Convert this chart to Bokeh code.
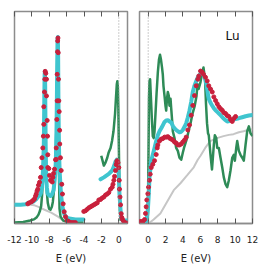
from bokeh.plotting import figure
from bokeh.layouts import row
from bokeh.models import Range1d, FixedTicker, LinearAxis, Span, Label
from bokeh.embed import file_html
from bokeh.resources import INLINE

# ---------------- data (energies in eV, intensities in arbitrary units) ----------------
left_ticks = [-12, -10, -8, -6, -4, -2, 0]
right_ticks = [0, 2, 4, 6, 8, 10, 12]

# Left panel: occupied states (4f doublet and valence band)
lc_core_E = [-12.0, -11.3, -10.73, -10.39, -9.93, -9.81, -9.47, -9.24, -9.07, -8.97, -8.85, -8.78, -8.72, -8.68,
             -8.63, -8.60, -8.57, -8.53, -8.50, -8.47, -8.44, -8.41, -8.38, -8.35, -8.28, -8.20, -8.05, -7.86,
             -7.74, -7.63, -7.51, -7.43, -7.36, -7.29, -7.25, -7.20, -7.16, -7.12, -7.08, -7.05, -7.01, -6.98,
             -6.95, -6.91, -6.86, -6.80, -6.74, -6.68, -6.62, -6.50, -6.36, -6.20, -6.00, -5.70, -5.00, -4.06]
lc_core_I = [19, 19, 19.5, 21, 22, 22.5, 25, 28, 29, 31, 37, 44, 55, 65,
             80, 100, 130, 152, 155, 140, 105, 78, 60, 46, 37, 31, 29, 28,
             29, 31, 34, 40, 46, 55, 63, 80, 100, 130, 165, 188, 190, 170,
             130, 95, 68, 52, 43, 34, 27, 18, 12, 8, 6, 5, 4, 4]
lc_vb_E = [-2.10, -1.72, -1.15, -0.76, -0.57, -0.38, -0.24, -0.14, -0.06, 0.0, 0.08, 0.20, 0.28, 0.43, 1.0]
lc_vb_I = [45, 47, 50.5, 54, 58, 63, 65, 64, 59, 47, 30, 14, 6, 3, 3]

lg_core_E = [-12.0, -11.0, -10.2, -9.7, -9.47, -9.24, -9.07, -8.93, -8.82, -8.74, -8.68, -8.62, -8.57, -8.53,
             -8.50, -8.47, -8.44, -8.40, -8.35, -8.28, -8.17, -8.02, -7.86, -7.70, -7.59, -7.47, -7.38, -7.30,
             -7.24, -7.18, -7.13, -7.09, -7.05, -7.01, -6.97, -6.93, -6.88, -6.82, -6.70, -6.40, -6.0, -5.0,
             -4.06]
lg_core_I = [1, 1.5, 3, 4.5, 6, 9, 13, 18, 30, 45, 62, 90, 120, 140,
             145, 128, 95, 68, 46, 32, 21, 15, 14, 17, 22, 33, 45, 58,
             75, 100, 135, 165, 182, 178, 150, 100, 50, 15, 7, 3, 2, 1,
             1]
lg_vb_E = [-2.02, -1.87, -1.72, -1.53, -1.33, -1.18, -0.95, -0.78, -0.61, -0.43, -0.32, -0.23, -0.17, -0.11,
           -0.05, -0.01, 0.04, 0.08, 0.14, 0.20]
lg_vb_I = [69, 64, 59, 62, 67, 72, 77, 84, 94, 112, 129, 142, 145, 139,
           117, 87, 57, 32, 12, 3]

lr_core_E = [-10.47, -10.33, -10.08, -9.93, -9.81, -9.70, -9.58, -9.50, -9.41, -9.32, -9.24, -9.12, -9.01, -8.93,
             -8.84, -8.74, -8.68, -8.63, -8.63, -8.55, -8.51, -8.47, -8.40, -8.32, -8.32, -8.24, -8.20, -8.17,
             -8.17, -8.05, -7.97, -7.86, -7.78, -7.66, -7.59, -7.51, -7.40, -7.28, -7.20, -7.20, -7.13, -7.09,
             -7.09, -7.05, -7.03, -7.00, -6.97, -6.94, -6.90, -6.86, -6.81, -6.79, -6.71, -6.63, -6.56, -6.48,
             -6.40, -6.28, -6.13, -5.95, -5.75, -5.50, -5.25, -5.00]
lr_core_I = [20, 21, 22, 23, 24, 25, 28, 30, 33, 35, 39, 42, 47, 57,
             67, 77, 89, 101, 119, 134, 147, 155, 153, 147, 130, 105, 89, 70,
             57, 56, 49, 44, 43.7, 42.3, 47, 51, 55.3, 65, 77, 65.3, 106, 125,
             152, 175, 186, 189, 174, 147, 125, 114, 95, 81, 67, 54, 40, 30,
             20, 12, 7, 3, 2, 1, 1, 1]
lr_vb_E = [-4.03, -3.83, -3.63, -3.45, -3.25, -3.06, -2.87, -2.68, -2.48, -2.30, -2.10, -1.91, -1.72, -1.53,
           -1.33, -1.15, -0.95, -0.76, -0.67, -0.57, -0.49, -0.38, -0.30, -0.23, -0.18, -0.09, 0.00, 0.05,
           0.08, 0.14, 0.20, 0.28, 0.35, 0.43, 0.58, 0.77, 0.94]
lr_vb_I = [12.3, 13, 14.5, 16, 17, 18, 19, 20, 21, 24, 24.5, 26, 27, 29,
           30, 31.5, 35, 37, 40, 44, 48, 54, 60, 63, 64, 62, 57, 44,
           35, 27, 19, 10, 6, 4, 2, 0.5, 0.5]

lbg_E = [-12.0, -10.7, -9.7, -9.24, -8.55, -7.78, -7.0, -6.25, -5.8]
lbg_I = [20, 19.5, 18.5, 17, 14, 11, 7, 2, 0.5]

# Right panel: unoccupied states
rc_E = [-0.23, -0.04, 0.07, 0.15, 0.35, 0.53, 0.73, 0.92, 1.11, 1.30, 1.50, 1.68, 1.88, 2.07,
        2.26, 2.45, 2.65, 2.83, 3.03, 3.22, 3.41, 3.60, 3.80, 3.98, 4.18, 4.37, 4.56, 4.75,
        4.95, 5.13, 5.33, 5.52, 5.71, 5.82, 6.02, 6.22, 6.36, 6.48, 6.59, 6.71, 6.79, 6.88,
        6.97, 7.17, 7.37, 7.55, 7.75, 8.03, 8.32, 8.61, 8.90, 9.09, 9.36, 9.67, 10.05, 10.43,
        10.82, 11.20, 11.58, 12.0]
rc_I = [0.5, 14, 30, 47, 64, 70, 77, 84, 90, 94, 97, 100, 103.5, 105,
        105.3, 104, 103, 99.5, 97, 95.3, 94, 93, 93.5, 95.3, 98.5, 102, 108, 115,
        124, 134, 140.5, 145, 149, 150.3, 152.5, 153.7, 152, 149, 146, 141, 137, 131,
        127, 123, 120, 117.5, 115.3, 113, 110.3, 107.5, 105.3, 104, 104.5, 105.3, 106.5, 107.3,
        108.3, 109.3, 110, 110.5]

rg_E = [-0.04, 0.0, 0.04, 0.09, 0.15, 0.22, 0.32, 0.42, 0.53, 0.63, 0.73, 0.84, 0.96, 1.11,
        1.24, 1.36, 1.47, 1.59, 1.68, 1.76, 1.88, 1.99, 2.07, 2.16, 2.26, 2.37, 2.45, 2.57,
        2.65, 2.76, 2.83, 3.03, 3.22, 3.41, 3.60, 3.80, 3.98, 4.12, 4.29, 4.47, 4.64, 4.87,
        5.10, 5.33, 5.56, 5.67, 5.79, 6.02, 6.13, 6.36, 6.54, 6.65, 6.77, 6.88, 6.97, 7.17,
        7.34, 7.55, 7.67, 7.83, 7.94, 8.13, 8.32, 8.52, 8.70, 8.90, 9.09, 9.28, 9.47, 9.67,
        9.85, 9.97, 10.13, 10.24, 10.43, 10.62, 10.82, 11.00, 11.20, 11.39, 11.58, 11.77, 12.0]
rg_I = [1, 40, 77, 127, 145, 147, 127, 107, 89, 87, 94, 112, 132, 154,
        167, 172, 167, 159, 152, 140, 130, 120, 115, 127, 134, 130, 120, 127,
        117, 104, 94, 87, 77, 74, 67, 65, 72, 77, 82, 87, 94, 102,
        112, 119, 130, 142, 137, 144, 150, 159, 147, 122, 102, 92, 90, 70,
        55, 80, 90, 87, 77, 77, 67, 57, 47, 40, 37, 44, 54, 67,
        70, 64, 77, 84, 74, 70, 67, 64, 80, 94, 99, 92, 89]

rr_E = [-1.0, -0.8, -0.62, -0.42, -0.31, -0.23, -0.16, -0.04, 0.04, 0.15, 0.23, 0.35, 0.53, 0.73,
        0.92, 1.04, 1.11, 1.30, 1.50, 1.68, 1.88, 2.07, 2.26, 2.45, 2.65, 2.83, 3.03, 3.22,
        3.41, 3.60, 3.80, 3.98, 4.18, 4.37, 4.56, 4.75, 4.95, 5.13, 5.33, 5.52, 5.71, 5.82,
        6.02, 6.22, 6.36, 6.59, 6.79, 6.97, 7.17, 7.37, 7.55, 7.75, 7.94, 8.13, 8.32, 8.52,
        8.70, 8.90, 9.09, 9.28, 9.47, 9.67, 9.85, 10.05]
rr_I = [2, 2, 2, 4, 10.3, 17, 24, 30.3, 37, 44, 50.3, 57, 60.3, 64,
        70.3, 77, 80, 84, 86, 86.5, 88, 88, 88.5, 87, 86, 85, 83, 82,
        80, 80, 81, 83, 85, 88, 95.3, 100.3, 110.3, 120.3, 130.3, 140.3, 147, 150.3,
        155.3, 154, 152, 149, 145.3, 140.3, 137, 134, 129, 125.3, 122, 119, 117, 115.3,
        113, 112, 110, 109, 106, 104, 107, 109]

rbg_E = [0.04, 0.63, 1.40, 2.16, 2.94, 3.71, 4.47, 5.24, 5.70, 6.02, 6.56, 7.14, 7.90, 8.67,
         9.28, 9.82, 10.43, 10.97, 11.58, 12.0]
rbg_I = [0, 4, 10.3, 22, 34, 41, 49, 57.3, 65, 69, 77, 84, 87, 89,
         90.3, 91, 93, 94, 95.5, 96]

element = "Lu"

CYAN = "#3fc5cf"
GREEN = "#2e8b57"
RED = "#c8203c"
GRAY = "#c6c6c6"
FONT = "DejaVu Sans"


def make_fig(xr, ticks, width, mbl, mbr):
    p = figure(width=width, height=266, x_range=Range1d(*xr), y_range=Range1d(0, 216),
               output_backend="svg", toolbar_location=None, y_axis_type=None,
               min_border_left=mbl, min_border_right=mbr, min_border_top=11, min_border_bottom=39)
    p.xgrid.visible = False
    p.ygrid.visible = False
    p.background_fill_color = "white"
    p.border_fill_color = "white"
    p.outline_line_color = "#8c8c8c"
    p.outline_line_width = 1.5
    ax = p.xaxis[0]
    ax.ticker = FixedTicker(ticks=ticks)
    ax.major_label_overrides = {t: str(t) for t in ticks}
    ax.major_tick_in = 5
    ax.major_tick_out = 0
    ax.minor_tick_line_color = None
    ax.major_tick_line_color = "#555555"
    ax.axis_line_color = "#8c8c8c"
    ax.axis_line_width = 1.5
    ax.major_label_text_font = FONT
    ax.major_label_text_font_size = "9px"
    ax.major_label_text_color = "#222222"
    ax.major_label_standoff = 12
    ax.axis_label = "E (eV)"
    ax.axis_label_text_font = FONT
    ax.axis_label_text_font_size = "10px"
    ax.axis_label_text_font_style = "normal"
    ax.axis_label_text_color = "#222222"
    ax.axis_label_standoff = 7
    top = LinearAxis(ticker=FixedTicker(ticks=ticks), major_tick_in=5, major_tick_out=0,
                     minor_tick_line_color=None, major_label_text_font_size="1px",
                     major_label_text_color=None, major_label_standoff=0,
                     axis_line_color=None, major_tick_line_color="#555555")
    p.add_layout(top, "above")
    p.add_layout(Span(location=0, dimension="height", line_color="#9a9a9a", line_dash="1 2", line_width=1))
    return p


p1 = make_fig((-12, 1), left_ticks, 133, 14, 6)
p1.line(lbg_E, lbg_I, line_color=GRAY, line_width=2)
p1.line(lg_core_E, lg_core_I, line_color=GREEN, line_width=2.5, line_join="round")
p1.line(lg_vb_E, lg_vb_I, line_color=GREEN, line_width=2.5, line_join="round")
p1.line(lc_core_E, lc_core_I, line_color=CYAN, line_width=4, line_join="round", line_cap="round")
p1.line(lc_vb_E, lc_vb_I, line_color=CYAN, line_width=4, line_join="round", line_cap="round")
p1.scatter(lr_core_E, lr_core_I, size=4, color=RED)
p1.scatter(lr_vb_E, lr_vb_I, size=4, color=RED)

p2 = make_fig((-1, 12), right_ticks, 133, 6, 14)
p2.line(rbg_E, rbg_I, line_color=GRAY, line_width=2)
p2.line(rg_E, rg_I, line_color=GREEN, line_width=2.5, line_join="round")
p2.line(rc_E, rc_I, line_color=CYAN, line_width=4, line_join="round", line_cap="round")
p2.scatter(rr_E, rr_I, size=4, color=RED)
p2.add_layout(Label(x=8.9, y=191, text=element, text_font=FONT, text_font_size="12px",
                    text_color="#111111", text_baseline="alphabetic"))

layout = row(p1, p2)
open("out.html", "w").write(file_html(layout, INLINE))
